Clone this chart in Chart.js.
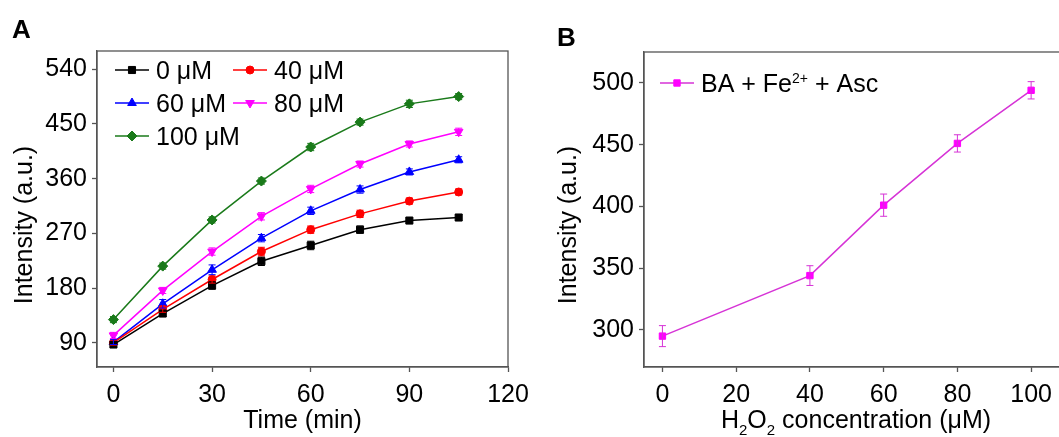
<!DOCTYPE html>
<html>
<head>
<meta charset="utf-8">
<script src="https://cdn.jsdelivr.net/npm/chart.js@4.4.1/dist/chart.umd.min.js"></script>
<style>
  html, body { margin: 0; padding: 0; background: #fff; overflow: hidden; }
  .panel { position: absolute; top: 0; width: 540px; height: 437px; }
  #panelA { left: 0; }
  #panelB { left: 540px; }
</style>
</head>
<body>
<div class="panel" id="panelA"><canvas id="chartA"></canvas></div>
<div class="panel" id="panelB"><canvas id="chartB"></canvas></div>
<script>
const FONT = '"Liberation Sans", Arial, Helvetica, sans-serif';
const AXIS = "#555";

// Panel A: intensity vs. time for each H2O2 level
const timeMin = [0, 15, 30, 45, 60, 75, 90, 105];
const int0uM = [87, 138, 184, 224, 250, 276, 291, 296];
const int40uM = [90, 145, 194, 240, 276, 302, 323, 338];
const int60uM = [91, 154, 210, 262, 307, 342, 371, 391];
const int80uM = [102, 176, 240, 298, 343, 384, 417, 437];
const int100uM = [128, 216, 292, 356, 412, 453, 483, 495];
const err0uM = [4, 5, 6, 7, 7, 6, 4, 5];
const err40uM = [4, 5, 6, 7, 6, 6, 5, 5];
const err60uM = [4, 7, 8, 6, 6, 6, 5, 5];
const err80uM = [5, 5, 6, 6, 6, 5, 5, 6];
const err100uM = [5, 5, 5, 5, 6, 5, 6, 5];
const ticksTime = [0, 30, 60, 90, 120];
const ticksIntA = [90, 180, 270, 360, 450, 540];

// Panel B: intensity vs. H2O2 concentration
const h2o2Conc = [0, 40, 60, 80, 100];
const intensityB = [295, 344, 401, 451, 494];
const errB = [8.5, 8, 9, 7, 7];
const ticksConc = [0, 20, 40, 60, 80, 100];
const ticksIntB = [300, 350, 400, 450, 500];

function pts(xs, ys) {
    return xs.map((x, i) => ({ x: x, y: ys[i] }));
}

function series(label, xs, ys, errs, color, style, radius, rotation) {
    return {
        label: label,
        data: pts(xs, ys),
        errors: errs,
        borderColor: color,
        backgroundColor: color,
        pointBackgroundColor: color,
        pointBorderColor: color,
        pointStyle: style,
        pointRadius: radius,
        pointRotation: rotation || 0,
        pointBorderWidth: 1,
        borderWidth: 1.5,
        tension: 0,
        fill: false
    };
}

// draw a marker the same way the dataset does
function marker(ctx, ds, x, y) {
    ctx.save();
    ctx.fillStyle = ds.pointBackgroundColor;
    ctx.strokeStyle = ds.pointBorderColor;
    ctx.lineWidth = 1;
    Chart.helpers.drawPoint(ctx, {
        pointStyle: ds.pointStyle,
        rotation: ds.pointRotation,
        radius: ds.pointRadius,
        borderWidth: 1
    }, x, y);
    ctx.restore();
}

// vertical error bars with small caps
const errorBars = {
    id: "errorBars",
    afterDatasetsDraw(chart) {
        const ctx = chart.ctx;
        const xs = chart.scales.x, ys = chart.scales.y;
        chart.data.datasets.forEach(ds => {
            if (!ds.errors) return;
            ctx.save();
            ctx.strokeStyle = ds.borderColor;
            ctx.lineWidth = 1;
            ds.data.forEach((p, i) => {
                const e = ds.errors[i];
                const px = xs.getPixelForValue(p.x);
                const top = ys.getPixelForValue(p.y + e);
                const bot = ys.getPixelForValue(p.y - e);
                ctx.beginPath();
                ctx.moveTo(px, top); ctx.lineTo(px, bot);
                ctx.moveTo(px - 3.5, top); ctx.lineTo(px + 3.5, top);
                ctx.moveTo(px - 3.5, bot); ctx.lineTo(px + 3.5, bot);
                ctx.stroke();
            });
            ctx.restore();
        });
    }
};

// frame round the plot area
const frame = {
    id: "frame",
    afterDraw(chart) {
        const a = chart.chartArea;
        const ctx = chart.ctx;
        ctx.save();
        ctx.strokeStyle = AXIS;
        ctx.lineWidth = 1.3;
        ctx.strokeRect(a.left, a.top, a.right - a.left, a.bottom - a.top);
        ctx.restore();
    }
};

// text made of pieces: {t, size, dy, bold}
function pieceWidth(ctx, parts) {
    let w = 0;
    parts.forEach(p => {
        ctx.font = (p.bold ? "bold " : "") + p.size + "px " + FONT;
        w += ctx.measureText(p.t).width;
    });
    return w;
}
function drawPieces(ctx, parts, x, y) {
    parts.forEach(p => {
        ctx.font = (p.bold ? "bold " : "") + p.size + "px " + FONT;
        ctx.fillText(p.t, x, y + (p.dy || 0));
        x += ctx.measureText(p.t).width;
    });
}

// panel letter, axis titles and the inline legend
const annotations = {
    id: "annotations",
    afterDraw(chart, args, opts) {
        const ctx = chart.ctx;
        const a = chart.chartArea;
        ctx.save();
        ctx.fillStyle = "#000";
        ctx.textBaseline = "alphabetic";
        ctx.textAlign = "left";

        // panel letter
        drawPieces(ctx, [{ t: opts.letter, size: 26, bold: true }], opts.letterX, opts.letterY);

        // x title, centred under the plot
        const xw = pieceWidth(ctx, opts.xTitle);
        drawPieces(ctx, opts.xTitle, (a.left + a.right) / 2 - xw / 2, opts.xTitleY);

        // y title, rotated
        const yw = pieceWidth(ctx, opts.yTitle);
        ctx.save();
        ctx.translate(opts.yTitleX, opts.yTitleMid);
        ctx.rotate(-Math.PI / 2);
        drawPieces(ctx, opts.yTitle, -yw / 2, 0);
        ctx.restore();

        // legend entries
        opts.legend.forEach(item => {
            const ds = chart.data.datasets[item.ds];
            ctx.save();
            ctx.strokeStyle = ds.borderColor;
            ctx.lineWidth = 1.5;
            ctx.beginPath();
            ctx.moveTo(item.x, item.y);
            ctx.lineTo(item.x + 34, item.y);
            ctx.stroke();
            ctx.restore();
            marker(ctx, ds, item.x + 17, item.y);
            const parts = item.parts || [{ t: ds.label, size: 25 }];
            drawPieces(ctx, parts, item.x + 41, item.y + 9);
        });
        ctx.restore();
    }
};

function axes(xMin, xMax, xTicks, yMin, yMax, yTicks, yWidth) {
    const common = {
        type: "linear",
        grid: { display: true, drawOnChartArea: false, drawTicks: true, tickLength: 5, tickColor: AXIS, tickWidth: 1.3 },
        border: { display: true, color: AXIS, width: 1.3 },
        title: { display: false }
    };
    return {
        x: Object.assign({}, common, {
            min: xMin, max: xMax,
            ticks: { color: "#000", padding: 8, maxRotation: 0, font: { family: FONT, size: 25 } },
            afterBuildTicks: s => { s.ticks = xTicks.map(v => ({ value: v })); },
            afterFit: s => { s.height = 70; }
        }),
        y: Object.assign({}, common, {
            min: yMin, max: yMax,
            ticks: { color: "#000", padding: 5, font: { family: FONT, size: 25 } },
            afterBuildTicks: s => { s.ticks = yTicks.map(v => ({ value: v })); },
            afterFit: s => { s.width = yWidth; }
        })
    };
}

const chartA = new Chart(document.getElementById("chartA").getContext("2d"), {
    type: "line",
    data: {
        datasets: [
            series("0 \u03bcM", timeMin, int0uM, err0uM, "#000000", "rect", 5),
            series("40 \u03bcM", timeMin, int40uM, err40uM, "#ff0000", "circle", 4),
            series("60 \u03bcM", timeMin, int60uM, err60uM, "#0000ff", "triangle", 5),
            series("80 \u03bcM", timeMin, int80uM, err80uM, "#ff00ff", "triangle", 5, 180),
            series("100 \u03bcM", timeMin, int100uM, err100uM, "#1a7a1a", "rectRot", 5)
        ]
    },
    options: {
        responsive: true,
        maintainAspectRatio: false,
        animation: false,
        devicePixelRatio: 1,
        layout: { padding: { top: 51, right: 32, left: 0, bottom: 0 } },
        scales: axes(-5, 120, ticksTime, 50, 570, ticksIntA, 97),
        plugins: {
            legend: { display: false },
            tooltip: { enabled: false },
            annotations: {
                letter: "A", letterX: 12, letterY: 38,
                xTitle: [{ t: "Time (min)", size: 25 }], xTitleY: 428,
                yTitle: [{ t: "Intensity (a.u.)", size: 25 }], yTitleX: 32, yTitleMid: 225,
                legend: [
                    { ds: 0, x: 115, y: 70 },
                    { ds: 1, x: 233, y: 70 },
                    { ds: 2, x: 115, y: 103 },
                    { ds: 3, x: 233, y: 103 },
                    { ds: 4, x: 115, y: 136 }
                ]
            }
        }
    },
    plugins: [errorBars, frame, annotations]
});

const chartB = new Chart(document.getElementById("chartB").getContext("2d"), {
    type: "line",
    data: {
        datasets: [
            Object.assign(series("BA + Fe2+ + Asc", h2o2Conc, intensityB, errB, "#ff00ff", "rect", 4.5),
                { borderColor: "#d633d6" })
        ]
    },
    options: {
        responsive: true,
        maintainAspectRatio: false,
        animation: false,
        devicePixelRatio: 1,
        layout: { padding: { top: 52, right: 12, left: 0, bottom: 0 } },
        scales: axes(-5, 110, ticksConc, 270, 525, ticksIntB, 104),
        plugins: {
            legend: { display: false },
            tooltip: { enabled: false },
            annotations: {
                letter: "B", letterX: 17, letterY: 46,
                xTitle: [
                    { t: "H", size: 25 }, { t: "2", size: 15, dy: 7 },
                    { t: "O", size: 25 }, { t: "2", size: 15, dy: 7 },
                    { t: " concentration (\u03bcM)", size: 25 }
                ],
                xTitleY: 428,
                yTitle: [{ t: "Intensity (a.u.)", size: 25 }], yTitleX: 36, yTitleMid: 225,
                legend: [
                    { ds: 0, x: 120, y: 83, parts: [
                        { t: "BA + Fe", size: 25 }, { t: "2+", size: 14, dy: -9 }, { t: " + Asc", size: 25 }
                    ] }
                ]
            }
        }
    },
    plugins: [errorBars, frame, annotations]
});
</script>
</body>
</html>
